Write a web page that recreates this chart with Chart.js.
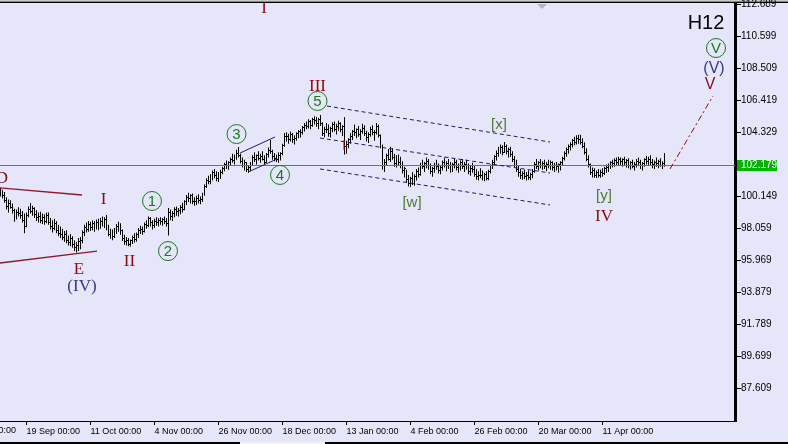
<!DOCTYPE html>
<html>
<head>
<meta charset="utf-8">
<title>H12 wave count</title>
<script src="https://cdn.jsdelivr.net/npm/chart.js@4.4.1/dist/chart.umd.min.js"></script>
<style>
  html, body { margin: 0; padding: 0; background: #e6e6fa; }
  canvas { display: block; }
</style>
</head>
<body>
<canvas id="chart" width="788" height="444"></canvas>
<script>
// H12 bars (one bar every 2px, left to right)
const highs = [
  100.72,100.60,100.45,100.10,99.95,99.90,99.70,99.35,99.30,99.45,
  99.35,99.20,99.05,99.10,99.50,99.72,99.55,99.45,99.25,99.10,
  99.15,99.05,99.00,99.10,99.10,98.75,98.60,98.70,98.55,98.30,
  98.20,98.05,97.90,97.95,97.60,97.70,97.55,97.30,97.20,97.45,
  97.50,97.95,98.30,98.45,98.55,98.50,98.60,98.55,98.65,98.70,
  98.75,98.85,98.80,98.95,98.30,98.05,98.00,98.10,98.35,98.50,
  98.40,98.00,97.65,97.50,97.45,97.35,97.60,97.75,97.80,98.10,
  98.25,98.20,98.45,98.60,98.85,98.80,98.60,98.70,98.80,98.75,
  98.80,98.75,98.85,98.75,99.40,99.30,99.20,99.45,99.50,99.40,
  99.60,99.75,99.90,100.25,100.40,100.30,100.35,100.10,100.20,100.30,
  100.15,100.40,100.95,101.35,101.50,101.60,101.85,101.95,101.80,101.75,
  101.90,102.10,102.35,102.50,102.45,102.70,102.95,102.90,103.20,103.38,
  102.95,102.70,102.55,102.40,102.20,102.40,102.85,103.05,102.90,103.10,
  102.95,103.10,102.85,103.00,103.35,103.85,103.20,103.00,102.90,103.05,
  103.05,103.60,104.30,104.35,104.25,104.40,104.30,104.15,104.35,104.50,
  104.55,104.75,104.95,105.05,105.20,105.15,105.30,105.40,105.35,105.30,
  105.47,105.00,104.70,104.95,104.85,104.70,105.00,105.05,104.90,105.10,
  105.00,104.80,105.34,103.80,103.95,104.30,104.50,104.85,104.60,104.75,
  104.55,104.90,104.80,104.45,104.35,104.70,104.80,104.50,104.95,104.85,
  104.20,103.55,102.60,102.95,103.25,103.40,103.30,102.95,102.85,102.90,
  102.75,102.45,102.10,101.90,101.55,101.45,101.75,101.60,101.95,102.05,
  102.35,102.55,102.40,102.70,102.60,102.30,102.10,102.35,102.55,102.30,
  102.20,102.50,102.70,102.45,102.60,102.40,102.35,102.65,102.55,102.30,
  102.50,102.60,102.40,102.55,102.30,102.15,102.35,102.20,101.95,101.80,
  102.00,101.85,101.70,101.80,101.90,102.25,102.55,102.85,103.15,103.40,
  103.55,103.50,103.71,103.55,103.35,103.40,103.10,102.80,102.55,102.20,
  101.95,101.80,101.90,101.75,101.85,101.70,101.95,102.40,102.60,102.45,
  102.60,102.45,102.55,102.40,102.55,102.50,102.45,102.35,102.40,102.30,
  102.45,102.75,103.10,103.35,103.55,103.70,103.90,104.05,104.15,104.18,
  104.18,103.95,103.70,103.30,102.85,102.30,102.05,102.00,101.85,101.95,
  101.90,102.00,102.10,102.25,102.30,102.45,102.55,102.65,102.70,102.75,
  102.70,102.65,102.75,102.60,102.65,102.45,102.55,102.40,102.60,102.70,
  102.55,102.40,102.65,102.80,102.75,102.85,102.60,102.50,102.70,102.55,102.65,102.45,103.00
];
const lows = [
  100.15,100.02,99.75,99.30,99.10,99.35,99.05,98.50,98.65,98.85,
  98.70,98.45,97.75,98.15,98.80,99.05,98.90,98.75,98.55,98.45,
  98.40,98.35,98.30,98.40,98.30,98.00,97.80,97.95,97.75,97.55,
  97.45,97.30,97.20,97.10,96.95,96.90,96.80,96.60,96.50,96.60,
  96.70,97.10,97.55,97.80,97.85,97.90,97.95,97.85,98.00,97.95,
  98.05,98.20,98.10,97.95,97.55,97.40,97.30,97.45,97.70,97.85,
  97.65,97.25,97.00,96.95,96.90,96.88,97.05,97.15,97.20,97.45,
  97.70,97.65,97.80,98.05,98.15,98.20,98.00,98.10,98.25,98.20,
  98.30,98.25,98.35,98.20,97.60,98.60,98.55,98.80,98.90,98.85,
  99.00,99.10,99.25,99.60,99.80,99.70,99.65,99.55,99.60,99.70,
  99.65,99.80,100.20,100.70,100.95,100.95,101.20,101.35,101.15,101.10,
  101.30,101.60,101.80,101.95,101.90,102.15,102.35,102.25,102.55,102.70,
  102.30,102.05,101.85,101.75,101.68,101.80,102.20,102.40,102.25,102.50,
  102.35,102.50,102.25,102.35,102.70,102.95,102.55,102.45,102.40,102.35,
  102.50,102.85,103.40,103.75,103.60,103.75,103.65,103.55,103.80,103.95,
  104.00,104.20,104.40,104.55,104.60,104.55,104.70,104.85,104.70,104.55,
  104.75,104.10,104.00,104.30,104.05,104.00,104.35,104.40,104.20,104.45,
  104.35,104.10,102.90,102.95,103.30,103.60,103.85,104.10,103.95,104.05,
  103.85,104.25,104.10,103.75,103.65,104.05,104.15,103.80,104.20,104.00,
  103.30,101.90,101.75,102.15,102.50,102.40,102.55,102.10,102.05,102.20,
  102.00,101.65,101.40,101.10,100.80,100.78,100.90,100.85,101.20,101.40,
  101.50,101.95,101.75,102.00,101.90,101.60,101.45,101.70,101.90,101.65,
  101.60,101.85,102.05,101.80,101.95,101.70,101.75,102.00,101.85,101.70,
  101.85,101.95,101.75,101.90,101.60,101.50,101.70,101.45,101.25,101.20,
  101.35,101.20,101.15,101.20,101.22,101.65,101.95,102.20,102.50,102.75,
  102.95,102.85,103.00,102.90,102.70,102.75,102.40,102.05,101.75,101.45,
  101.30,101.25,101.30,101.20,101.25,101.22,101.35,101.70,101.95,101.85,
  102.00,101.90,101.95,101.80,102.00,101.90,101.85,101.75,101.85,101.70,
  101.85,102.20,102.50,102.75,102.95,103.15,103.35,103.50,103.55,103.60,
  103.55,103.30,102.90,102.45,102.05,101.55,101.40,101.38,101.36,101.40,
  101.38,101.45,101.55,101.70,101.75,101.95,102.05,102.10,102.15,102.20,
  102.15,102.10,102.20,102.05,102.00,101.90,102.00,101.85,102.05,102.15,
  101.95,101.85,102.10,102.25,102.15,102.20,102.00,101.95,102.10,102.00,102.10,101.95,102.10
];
const closes = [
  100.40,100.20,99.90,99.50,99.70,99.45,99.25,98.70,99.10,99.05,
  98.90,98.60,98.20,98.90,99.30,99.20,99.35,98.95,98.75,98.85,
  98.60,98.80,98.50,98.90,98.45,98.20,98.05,98.40,97.90,97.75,
  97.70,97.50,97.65,97.25,97.15,97.40,97.00,96.85,96.95,97.20,
  97.30,97.80,98.10,98.00,98.30,98.15,98.40,98.05,98.45,98.20,
  98.55,98.40,98.65,98.10,97.70,97.85,97.55,97.95,98.20,98.05,
  97.90,97.40,97.20,97.30,97.05,97.25,97.45,97.35,97.65,97.90,
  98.00,97.85,98.35,98.25,98.70,98.45,98.25,98.55,98.45,98.60,
  98.50,98.65,98.55,98.40,99.10,98.85,99.05,99.30,99.15,99.25,
  99.45,99.30,99.80,100.10,100.00,100.20,99.85,99.80,100.05,99.90,
  99.95,100.30,100.80,101.20,101.15,101.45,101.70,101.55,101.35,101.60,
  101.75,101.95,102.25,102.10,102.35,102.60,102.50,102.80,102.95,102.85,
  102.45,102.20,102.35,101.90,102.05,102.30,102.70,102.55,102.80,102.65,
  102.75,102.60,102.40,102.90,103.15,103.10,102.75,102.65,102.55,102.80,
  102.95,103.50,104.10,104.05,103.85,104.20,103.90,103.95,104.25,104.40,
  104.30,104.65,104.80,104.75,105.05,104.80,105.20,105.10,104.95,105.20,
  104.90,104.25,104.55,104.50,104.25,104.60,104.85,104.55,104.75,104.95,
  104.50,104.70,103.40,103.55,103.85,104.10,104.40,104.30,104.50,104.20,
  104.40,104.60,104.25,104.00,104.20,104.55,104.30,104.35,104.75,104.15,
  103.45,102.20,102.40,102.80,102.60,103.10,102.70,102.30,102.65,102.40,
  102.20,101.85,101.95,101.25,101.00,101.30,101.10,101.45,101.80,101.60,
  102.20,102.10,102.30,102.45,102.05,101.80,101.95,102.25,102.10,101.85,
  102.05,102.35,102.20,102.30,102.15,102.00,102.25,102.40,102.05,102.20,
  102.35,102.10,102.25,102.05,101.80,102.00,101.90,101.60,101.45,101.55,
  101.55,101.40,101.60,101.35,101.80,102.15,102.40,102.75,102.95,103.25,
  103.35,103.05,103.40,103.10,103.20,102.90,102.55,102.20,101.90,101.70,
  101.50,101.65,101.45,101.55,101.40,101.60,101.80,102.25,102.10,102.35,
  102.20,102.30,102.10,102.25,102.15,102.35,102.05,102.20,102.10,102.25,
  102.35,102.65,102.95,103.25,103.40,103.55,103.80,103.70,103.95,103.85,
  103.70,103.45,103.05,102.60,102.25,101.75,101.85,101.50,101.70,101.55,
  101.75,101.65,101.95,102.05,102.20,102.35,102.30,102.50,102.40,102.55,
  102.45,102.55,102.40,102.50,102.20,102.35,102.10,102.25,102.45,102.35,
  102.15,102.30,102.55,102.45,102.60,102.40,102.25,102.35,102.30,102.45,102.20,102.30,102.18
];

// time axis: bar index of each date label
const dateTicks = [13, 45, 77, 109, 141, 173, 205, 237, 269, 301];
const dateLabels = ['19 Sep 00:00', '11 Oct 00:00', '4 Nov 00:00', '26 Nov 00:00', '18 Dec 00:00',
  '13 Jan 00:00', '4 Feb 00:00', '26 Feb 00:00', '20 Mar 00:00', '11 Apr 00:00'];
const prevDateTick = -19;
const prevDateLabel = '28 Aug 00:00';

const priceTicks = [87.609, 89.699, 91.789, 93.879, 95.969, 98.059, 100.149,
  104.329, 106.419, 108.509, 110.599, 112.689];
const lastPrice = 102.179;

// wave marks: [text, bar index, price, kind]
const waveLabels = [
  ['I', 131.75, 112.50, 'red'],
  ['D', 0.75, 101.42, 'red'],
  ['I', 51.5, 99.99, 'red'],
  ['E', 39.25, 95.42, 'red'],
  ['(IV)', 40.75, 94.37, 'navy'],
  ['II', 64.5, 95.94, 'red'],
  ['1', 75.75, 99.86, 'circle'],
  ['2', 83.75, 96.59, 'circle'],
  ['3', 118, 104.23, 'circle'],
  ['4', 139.75, 101.56, 'circle'],
  ['5', 158.5, 106.39, 'circle'],
  ['III', 158.5, 107.43, 'red'],
  ['[w]', 205.75, 99.79, 'bracket'],
  ['[x]', 249.25, 104.89, 'bracket'],
  ['[y]', 301.75, 100.25, 'bracket'],
  ['IV', 301.75, 98.88, 'red'],
  ['V', 357.75, 109.85, 'circle'],
  ['(V)', 356.75, 108.545, 'navySans'],
  ['V', 354.75, 107.53, 'redSans']
];

// drawn lines: [bar index 1, price 1, bar index 2, price 2, kind]
const trendLines = [
  [-0.25, 100.71, 40.75, 100.25, 'triangle'],
  [-0.25, 95.81, 48.25, 96.59, 'triangle'],
  [119.75, 102.99, 137.25, 104.04, 'wedge'],
  [123.75, 101.75, 138.25, 102.60, 'wedge'],
  [163.25, 106.06, 274.75, 103.71, 'channel'],
  [159.75, 103.97, 274.75, 101.69, 'channel'],
  [159.75, 101.95, 274.75, 99.60, 'channel'],
  [334.75, 101.95, 356.25, 106.72, 'target'],
  [171.75, 103.84, 171.75, 103.19, 'mark']
];

const labelStyles = {
  red: { color: '#8b0a0a', font: '17px "Liberation Serif"' },
  redSans: { color: '#8b0a0a', font: '16px "Liberation Sans"' },
  navy: { color: '#353595', font: '17px "Liberation Serif"' },
  navySans: { color: '#353595', font: '16px "Liberation Sans"' },
  circle: { color: '#1a7a1a', font: '15px "Liberation Sans"' },
  bracket: { color: '#4f7a2e', font: '15px "Liberation Sans"' }
};
const lineStyles = {
  triangle: { color: '#8b1a2a', width: 1.3, dash: [] },
  wedge: { color: '#1c1c7a', width: 1, dash: [] },
  channel: { color: '#1c1c6a', width: 1, dash: [4, 3] },
  target: { color: '#8b0a0a', width: 1, dash: [6, 3, 2, 3] },
  mark: { color: '#c00000', width: 1, dash: [] }
};

const AREA_W = 735;   // plot width once the 53px price axis is taken off
Chart.defaults.font.family = '"Liberation Sans", Arial, sans-serif';

const overlay = {
  id: 'overlay',
  beforeDraw(chart) {
    const c = chart.ctx;
    c.save();
    c.fillStyle = '#e6e6fa';
    c.fillRect(0, 0, chart.width, chart.height);
    c.fillStyle = '#c8c8c8'; c.fillRect(0, 0, chart.width, 1);
    c.fillStyle = '#888888'; c.fillRect(0, 1, chart.width, 1);
    c.fillStyle = '#000000'; c.fillRect(0, 2, chart.width, 1);
    c.restore();
  },
  afterDatasetsDraw(chart) {
    const { ctx: c, chartArea: a, scales: { x, y } } = chart;
    c.save();
    c.beginPath();
    c.rect(a.left, a.top, a.right - a.left, a.bottom - a.top);
    c.clip();

    // close ticks
    c.fillStyle = '#000';
    closes.forEach((v, i) => {
      c.fillRect(Math.round(x.getPixelForValue(i)), Math.round(y.getPixelForValue(v) - 0.5), 1, 1);
    });

    // bid line
    const py = Math.round(y.getPixelForValue(lastPrice) - 0.5);
    c.fillStyle = '#00c000';
    c.fillRect(a.left, py, a.right - a.left, 1);

    // trend lines
    trendLines.forEach(([i1, p1, i2, p2, kind]) => {
      const s = lineStyles[kind];
      c.strokeStyle = s.color;
      c.lineWidth = s.width;
      c.setLineDash(s.dash);
      c.beginPath();
      c.moveTo(x.getPixelForValue(i1), y.getPixelForValue(p1));
      c.lineTo(x.getPixelForValue(i2), y.getPixelForValue(p2));
      c.stroke();
    });
    c.setLineDash([]);

    // wave labels
    c.textAlign = 'center';
    c.textBaseline = 'middle';
    waveLabels.forEach(([text, i, p, kind]) => {
      const s = labelStyles[kind];
      const px = x.getPixelForValue(i), pp = y.getPixelForValue(p);
      c.fillStyle = s.color;
      c.font = s.font;
      c.fillText(text, px, pp + 1);
      if (kind === 'circle') {
        c.strokeStyle = s.color;
        c.lineWidth = 1;
        c.beginPath(); c.arc(px, pp, 9.5, 0, Math.PI * 2); c.stroke();
      }
    });

    // timeframe
    c.fillStyle = '#000';
    c.font = '20px "Liberation Sans"';
    c.fillText('H12', a.right - 29, a.top + 20);

    // chart shift marker
    const sx = x.getPixelForValue(270.75);
    c.fillStyle = '#b4b4c4';
    c.beginPath(); c.moveTo(sx - 5, a.top + 1); c.lineTo(sx + 5, a.top + 1); c.lineTo(sx, a.top + 6); c.fill();
    c.restore();
  },
  afterDraw(chart) {
    const { ctx: c, chartArea: a, scales: { x, y } } = chart;
    c.save();
    // bid price box on the axis
    const py = Math.round(y.getPixelForValue(lastPrice));
    c.fillStyle = '#00b400';
    c.fillRect(a.right + 2, py - 5, 40, 11);
    c.fillStyle = '#fff';
    c.font = '10px "Liberation Sans"';
    c.textAlign = 'left';
    c.textBaseline = 'middle';
    c.fillText(lastPrice.toFixed(3), a.right + 6, py + 0.5);
    // date label just off the left edge
    c.fillStyle = '#000';
    c.font = '9px "Liberation Sans"';
    c.textBaseline = 'top';
    c.fillText(prevDateLabel, x.getPixelForValue(prevDateTick), a.bottom + 5);
    // window frame at the bottom
    c.fillStyle = '#000'; c.fillRect(0, 442, 240, 2);
    c.fillStyle = '#f4f4f4'; c.fillRect(240, 442, 85, 2);
    c.fillStyle = '#000'; c.fillRect(325, 442, chart.width - 325, 2);
    c.restore();
  }
};

new Chart(document.getElementById('chart'), {
  type: 'bar',
  data: {
    datasets: [{
      label: 'H12',
      data: highs.map((h, i) => ({ x: i, y: [lows[i], h] })),
      backgroundColor: '#000',
      borderWidth: 0,
      barThickness: 1,
      inflateAmount: 0,
      grouped: false
    }]
  },
  options: {
    responsive: false,
    animation: false,
    events: [],
    layout: { padding: { top: 3, left: 0, right: 0, bottom: 0 } },
    plugins: { legend: { display: false }, tooltip: { enabled: false } },
    scales: {
      x: {
        type: 'linear',
        min: -0.25,
        max: -0.25 + AREA_W / 2,
        offset: false,
        afterBuildTicks: s => { s.ticks = dateTicks.map(v => ({ value: v })); },
        afterFit: s => { s.height = 23; s.paddingLeft = 0; s.paddingRight = 0; },
        grid: { drawOnChartArea: false, drawTicks: true, tickLength: 4, tickColor: '#000', offset: false },
        border: { color: '#000', width: 1 },
        ticks: {
          autoSkip: false, maxRotation: 0, align: 'start', padding: 1, color: '#000',
          font: { size: 9 },
          callback: (v, i) => dateLabels[i]
        }
      },
      y: {
        position: 'right',
        min: 85.49,
        max: 112.79,
        afterBuildTicks: s => { s.ticks = priceTicks.map(v => ({ value: v })); },
        afterFit: s => { s.width = 53; s.paddingTop = 0; s.paddingBottom = 0; },
        grid: { drawOnChartArea: false, drawTicks: true, tickLength: 6, tickColor: '#000' },
        border: { color: '#000', width: 3 },
        ticks: { autoSkip: false, padding: 0, color: '#000', font: { size: 10 }, callback: v => v.toFixed(3) }
      }
    }
  },
  plugins: [overlay]
});
</script>
</body>
</html>
